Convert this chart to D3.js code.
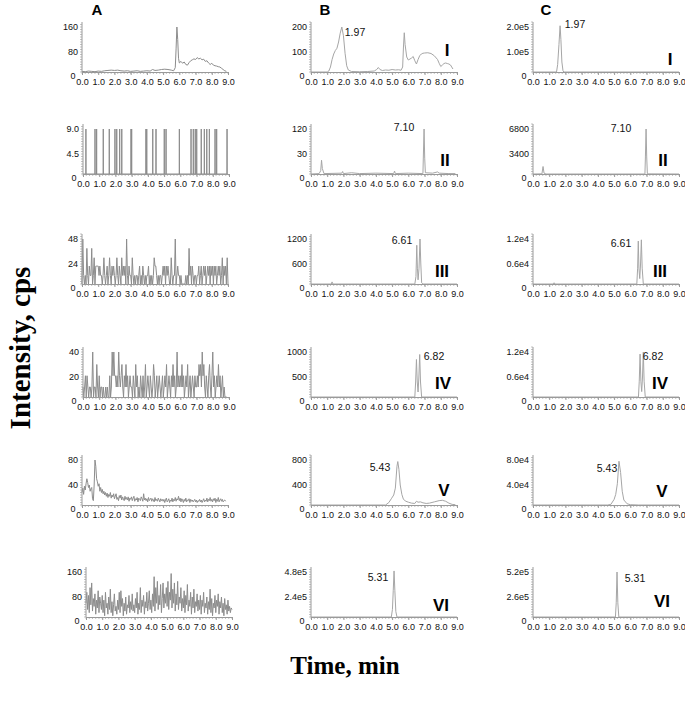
<!DOCTYPE html>
<html>
<head>
<meta charset="utf-8">
<script src="https://cdn.jsdelivr.net/npm/d3@7"></script>
<style>
  body { margin: 0; background: #fff; }
  svg { display: block; }
</style>
</head>
<body>
<div id="chart"></div>
<script>
// time axis (min)
const timeTicks = [0, 1, 2, 3, 4, 5, 6, 7, 8, 9];
const sampleStep = 0.05; // min between samples in the noisy blank traces

// column A: blank samples
const a1 = [[0,18],[0.2,17],[0.4,19],[0.6,18],[0.8,17],[1.0,19],[1.2,18],[1.4,20],[1.6,21],[1.8,22],[2.0,21],[2.2,22],[2.4,20],[2.6,19],[2.8,20],[3.0,18],[3.2,19],[3.4,20],[3.6,18],[3.8,19],[4.0,20],[4.2,19],[4.35,24],[4.5,21],[4.7,22],[4.9,24],[5.1,25],[5.3,24],[5.5,22],[5.65,20],[5.75,30],[5.8,90],[5.85,160],[5.9,120],[5.95,60],[6.0,45],[6.1,50],[6.2,44],[6.3,48],[6.4,40],[6.5,38],[6.6,46],[6.7,52],[6.8,55],[6.9,58],[7.0,56],[7.1,62],[7.2,58],[7.3,60],[7.4,55],[7.5,57],[7.6,50],[7.7,52],[7.8,45],[7.9,40],[8.0,44],[8.1,38],[8.2,36],[8.3,35],[8.4,33],[8.5,32],[8.6,28],[8.7,24],[8.8,20],[8.9,18]];
const a2Spikes = [0.18,0.74,0.84,1.25,1.62,1.97,2.08,2.26,2.39,2.96,3.0,3.88,3.93,4.30,4.50,5.01,5.12,5.94,6.66,6.80,6.92,7.01,7.29,7.48,7.63,7.79,8.14,8.24,8.88];
const a2Height = 9;
const a3 = [
  0,48,13,0,13,0,39,13,0,22,13,13,39,0,13,30,0,22,22,22,
  22,13,22,13,13,0,13,30,13,0,13,22,0,13,30,13,0,22,13,22,
  13,0,13,30,13,0,22,13,0,30,13,22,13,22,0,48,13,0,22,13,
  13,0,30,13,0,13,0,13,13,0,13,22,0,13,0,22,13,0,13,0,
  13,13,22,0,13,0,13,0,13,30,22,22,13,0,13,0,13,13,0,13,
  22,13,22,0,22,13,22,13,0,0,30,13,0,13,13,48,0,13,22,13,
  13,0,13,0,0,0,0,0,13,0,13,0,39,13,22,0,22,13,0,13,
  13,0,13,13,22,0,13,22,0,13,22,13,22,0,13,22,13,22,0,22,
  13,22,0,22,13,22,0,13,22,13,22,0,13,30,0,22,13,22,0,30,
  0];
const a4 = [
  12,0,12,21,0,21,12,0,12,12,0,12,40,0,12,12,0,30,12,0,
  21,0,12,12,0,12,0,0,12,0,12,0,0,21,0,12,40,21,40,21,
  21,12,21,12,40,21,12,21,30,12,0,21,12,30,12,21,0,12,21,12,
  12,0,21,12,0,30,12,21,0,12,0,21,12,0,21,0,12,30,0,12,
  21,12,0,21,12,0,12,30,21,0,12,21,0,12,21,12,0,12,21,0,
  12,21,12,30,0,12,21,12,0,21,12,30,12,21,0,12,40,12,21,12,
  21,12,30,12,21,0,12,21,12,30,0,12,21,0,12,21,12,0,21,12,
  12,21,12,30,21,30,12,40,21,30,12,0,21,12,0,21,30,12,0,21,
  40,12,21,0,12,21,12,30,12,21,0,12,21,0,12,0,0,0];
const a5 = [
  28,35,25,38,32,42,50,44,36,40,30,34,36,18,15,40,80,70,50,45,
  38,42,30,36,28,33,26,30,24,28,22,27,20,25,22,28,19,24,21,26,
  18,22,26,17,20,15,23,19,24,16,21,18,15,22,17,20,16,21,14,19,
  17,21,15,19,22,14,18,16,20,13,19,17,15,21,18,14,26,16,19,15,
  18,13,20,15,17,19,14,18,16,13,20,15,17,14,19,16,13,18,15,17,
  14,17,12,16,19,13,15,18,12,16,14,19,13,17,15,20,14,18,16,22,
  15,19,13,18,16,12,17,14,19,13,16,15,18,12,17,14,16,13,15,17,
  13,16,12,15,14,17,13,16,12,15,18,13,16,14,19,13,17,15,20,14,
  17,13,18,15,19,12,17,14,20,13,16,18,14,17,13,15,16,14];
const a6 = [
  60,95,40,85,30,110,55,125,35,75,50,90,25,70,45,100,30,80,60,40,
  85,30,70,20,95,45,60,25,80,40,105,30,65,20,55,90,35,50,25,70,
  40,95,30,100,50,75,20,60,35,80,25,55,45,85,30,65,40,90,35,55,
  30,75,45,95,25,60,40,110,30,70,50,85,25,65,45,95,35,60,100,40,
  70,30,90,50,145,35,110,60,130,40,85,55,120,30,75,125,45,90,60,110,
  50,130,40,95,70,155,45,105,60,125,35,90,55,130,40,80,60,110,35,75,
  45,100,30,85,55,120,35,70,50,95,25,80,45,105,30,65,50,90,35,70,
  40,85,25,70,50,95,30,60,45,80,25,65,40,105,30,75,20,60,45,85,
  30,70,50,90,25,65,45,80,30,60,20,75,40,55,25,70,35,50,30,45,
  40];

// column B: spiked samples
const b1 = [[0,18],[0.5,19],[1.0,20],[1.1,24],[1.2,40],[1.3,70],[1.4,92],[1.5,106],[1.6,115],[1.7,140],[1.8,175],[1.9,200],[2.0,165],[2.1,95],[2.2,45],[2.3,28],[2.5,22],[3.0,21],[3.5,22],[3.9,24],[4.05,30],[4.15,38],[4.25,30],[4.4,26],[4.6,28],[4.8,27],[5.0,30],[5.2,28],[5.4,29],[5.55,27],[5.65,40],[5.7,120],[5.75,177],[5.8,130],[5.9,80],[6.0,68],[6.1,72],[6.2,76],[6.3,82],[6.4,65],[6.5,52],[6.6,70],[6.7,85],[6.8,92],[6.9,95],[7.0,96],[7.2,97],[7.4,94],[7.6,85],[7.8,70],[7.9,55],[8.0,42],[8.1,48],[8.2,54],[8.3,56],[8.4,54],[8.5,52],[8.6,48],[8.75,32]];
const b2 = [[0,12],[0.5,13],[0.6,20],[0.65,45],[0.7,25],[0.8,13],[1.9,14],[1.95,18],[2.0,13],[2.5,15],[3.0,13],[4.0,14],[5.1,13],[5.15,19],[5.2,13],[6.0,14],[6.9,13],[6.93,60],[6.97,120],[7.01,50],[7.05,15],[7.5,14],[7.8,17],[7.9,14],[8.5,13],[8.9,13]];
const b3 = [[0,100],[1.25,110],[1.3,170],[1.35,110],[3,100],[6.4,110],[6.47,300],[6.52,1050],[6.56,500],[6.6,220],[6.66,500],[6.72,1200],[6.77,600],[6.82,150],[6.9,100],[9,100]];
const b4 = [[0,80],[6.4,90],[6.45,400],[6.5,850],[6.55,400],[6.6,200],[6.65,500],[6.7,950],[6.75,400],[6.82,90],[9,80]];
const b5 = [[0,70],[4.6,75],[4.8,120],[4.95,180],[5.1,240],[5.2,350],[5.3,700],[5.35,775],[5.42,650],[5.5,400],[5.6,250],[5.7,170],[5.85,140],[6.0,125],[6.2,110],[6.4,105],[6.5,140],[6.6,125],[6.75,130],[6.9,115],[7.1,105],[7.3,110],[7.6,130],[7.9,150],[8.1,155],[8.3,140],[8.5,110],[8.7,90],[8.9,85]];
const b6 = [[0,40000],[4.95,40000],[5.02,120000],[5.07,300000],[5.12,490000],[5.17,300000],[5.23,100000],[5.3,40000],[9,40000]];

// column C: spiked samples, second channel
const c1 = [[0,15000],[1.45,15000],[1.52,50000],[1.6,130000],[1.67,205000],[1.72,150000],[1.78,60000],[1.85,25000],[1.9,15000],[9,15000]];
const c2 = [[0,600],[0.55,700],[0.62,1700],[0.68,800],[0.8,600],[6.9,600],[6.93,3000],[6.97,6800],[7.01,3000],[7.05,700],[9,600]];
const c3 = [[0,1000],[1.25,1000],[1.3,1500],[1.35,1000],[6.4,1000],[6.45,5000],[6.49,11500],[6.53,5000],[6.58,2500],[6.63,6000],[6.68,11800],[6.73,5000],[6.8,1000],[9,1000]];
const c4 = [[0,1000],[6.5,1000],[6.55,5000],[6.6,11500],[6.65,5000],[6.7,2500],[6.75,6000],[6.8,12000],[6.85,5000],[6.92,1000],[9,1000]];
const c5 = [[0,7000],[4.6,7500],[4.8,9000],[5.0,17000],[5.1,25000],[5.2,42000],[5.3,78000],[5.4,60000],[5.5,30000],[5.6,16000],[5.8,10000],[6.0,8500],[6.5,7500],[9,7000]];
const c6 = [[0,40000],[5.08,40000],[5.13,200000],[5.18,520000],[5.23,200000],[5.29,40000],[9,40000]];

// y axis: top tick value and [top, middle] tick labels
const yMaxA = [160, 9, 48, 40, 80, 160];
const yLabelsA = [["160","80"],["9.0","4.5"],["48","24"],["40","20"],["80","40"],["160","80"]];
const yMaxB = [200, 120, 1200, 1000, 800, 480000];
const yLabelsB = [["200","100"],["120","30"],["1200","600"],["1000","500"],["800","400"],["4.8e5","2.4e5"]];
const yMaxC = [200000, 6800, 12000, 12000, 80000, 520000];
const yLabelsC = [["2.0e5","1.0e5"],["6800","3400"],["1.2e4","0.6e4"],["1.2e4","0.6e4"],["8.0e4","4.0e4"],["5.2e5","2.6e5"]];

const columnNames = ["A", "B", "C"];
const compounds = ["I", "II", "III", "IV", "V", "VI"];
const peakLabels = ["1.97", "7.10", "6.61", "6.82", "5.43", "5.31"];

// ---- layout ----
const W = 685, H = 705;
const rowAxisY = [72, 174, 284, 397, 505, 617];
const colAxisX = [[82, 83, 82, 83, 82, 86], [311, 311, 311, 311, 311, 311], [533, 533, 533, 533, 533, 533]];
const plotW = 146;
const traceColor = ["#8c8c8c", "#a6a6a6", "#a6a6a6"];
const axisColor = "#9a9a9a";

// label placements (centre points)
const peakPosB = [[355, 32], [404, 127], [402, 240], [434, 356], [380, 467], [378, 577]];
const peakPosC = [[575, 24], [621, 128], [621, 243], [653, 356], [607, 468], [635, 578]];
const romanPosB = [[447, 50], [445, 160], [442, 271], [443, 383], [444, 490], [441, 605]];
const romanPosC = [[670, 59], [663, 160], [660, 271], [660, 383], [662, 491], [662, 601]];
const headPos = [[97, 10], [325, 10], [546, 10]];

const svg = d3.select('#chart').append('svg')
  .attr('width', W)
  .attr('height', H)
  .style('font-family', 'Arial, "Liberation Sans", sans-serif');

function toPoints(values) {
  return values.map((v, i) => [i * sampleStep, v]);
}

function spikesToPoints(times, h) {
  const pts = [[0, 0]];
  times.forEach(t => { pts.push([t - 0.004, 0], [t, h], [t + 0.004, 0]); });
  pts.push([8.9, 0]);
  return pts;
}

function drawPanel(x0, axisY, yMax, labels, points, color) {
  const x = d3.scaleLinear().domain([0, 9]).range([x0, x0 + plotW]);
  const y = d3.scaleLinear().domain([0, yMax]).range([axisY + 5, axisY - 45]);
  const g = svg.append('g');

  // trace (anything below the axis floor sits on the axis)
  const line = d3.line()
    .x(d => x(d[0]))
    .y(d => Math.min(y(d[1]), axisY));
  g.append('path')
    .datum(points)
    .attr('d', line)
    .attr('fill', 'none')
    .attr('stroke', color)
    .attr('stroke-width', 1)
    .attr('stroke-linejoin', 'round');

  // x axis
  const xAxis = g.append('g')
    .attr('transform', `translate(0,${axisY})`)
    .call(d3.axisBottom(x).tickValues(timeTicks).tickFormat(d3.format('.1f')).tickSize(3).tickPadding(4));
  xAxis.select('.domain').attr('stroke', axisColor);
  xAxis.selectAll('.tick line').attr('stroke', axisColor);
  xAxis.selectAll('text').attr('font-size', 9).attr('fill', '#111');

  const xMinor = d3.range(0, 9.001, 0.2);
  g.append('g').selectAll('line')
    .data(xMinor)
    .join('line')
    .attr('x1', d => x(d)).attr('x2', d => x(d))
    .attr('y1', axisY).attr('y2', axisY + 2)
    .attr('stroke', axisColor).attr('stroke-width', 0.6);

  // y axis: the 0 label sits in the corner, just clear of the "0.0" time label
  const yTicks = [yMax / 2, yMax];
  const yText = [labels[1], labels[0]];
  const yAxis = g.append('g')
    .attr('transform', `translate(${x0},0)`)
    .call(d3.axisLeft(y).tickValues(yTicks).tickFormat((d, i) => yText[i]).tickSize(0).tickPadding(4));
  yAxis.select('.domain').remove();
  yAxis.selectAll('text').attr('font-size', 9).attr('fill', '#111');

  g.append('text')
    .attr('x', x0 - 6.5)
    .attr('y', y(0) - 1)
    .attr('dy', '0.32em')
    .attr('text-anchor', 'end')
    .attr('font-size', 9)
    .attr('fill', '#111')
    .text('0');

  g.append('line')
    .attr('x1', x0).attr('x2', x0)
    .attr('y1', y(yMax / 10)).attr('y2', y(yMax * 1.1))
    .attr('stroke', axisColor);

  const yMinor = d3.range(yMax / 10, yMax * 1.1, yMax / 20);
  g.append('g').selectAll('line')
    .data(yMinor)
    .join('line')
    .attr('x1', x0 - 2).attr('x2', x0)
    .attr('y1', d => y(d)).attr('y2', d => y(d))
    .attr('stroke', axisColor).attr('stroke-width', 0.6);
}

const seriesA = [a1, spikesToPoints(a2Spikes, a2Height), toPoints(a3), toPoints(a4), toPoints(a5), toPoints(a6)];
const seriesB = [b1, b2, b3, b4, b5, b6];
const seriesC = [c1, c2, c3, c4, c5, c6];

const cols = [
  { maxes: yMaxA, labels: yLabelsA, series: seriesA },
  { maxes: yMaxB, labels: yLabelsB, series: seriesB },
  { maxes: yMaxC, labels: yLabelsC, series: seriesC }
];

cols.forEach((col, ci) => {
  rowAxisY.forEach((ay, ri) => {
    drawPanel(colAxisX[ci][ri], ay, col.maxes[ri], col.labels[ri], col.series[ri], traceColor[ci]);
  });
});

// peak retention times
[peakPosB, peakPosC].forEach(pos => {
  svg.append('g').selectAll('text')
    .data(peakLabels)
    .join('text')
    .attr('x', (d, i) => pos[i][0])
    .attr('y', (d, i) => pos[i][1])
    .attr('dy', '0.35em')
    .attr('text-anchor', 'middle')
    .attr('font-size', 10.5)
    .attr('fill', '#111')
    .text(d => d);
});

// compound numerals
[romanPosB, romanPosC].forEach(pos => {
  svg.append('g').selectAll('text')
    .data(compounds)
    .join('text')
    .attr('x', (d, i) => pos[i][0])
    .attr('y', (d, i) => pos[i][1])
    .attr('dy', '0.36em')
    .attr('text-anchor', 'middle')
    .attr('font-size', 17)
    .attr('font-weight', 'bold')
    .attr('fill', '#000')
    .text(d => d);
});

// column headings
svg.append('g').selectAll('text')
  .data(columnNames)
  .join('text')
  .attr('x', (d, i) => headPos[i][0])
  .attr('y', (d, i) => headPos[i][1])
  .attr('dy', '0.36em')
  .attr('text-anchor', 'middle')
  .attr('font-size', 15)
  .attr('font-weight', 'bold')
  .text(d => d);

// axis titles
svg.append('text')
  .attr('transform', 'translate(20,348) rotate(-90)')
  .attr('dy', '0.35em')
  .attr('text-anchor', 'middle')
  .style('font-family', '"Liberation Serif", "Times New Roman", serif')
  .attr('font-size', 29)
  .attr('font-weight', 'bold')
  .text('Intensity, cps');

svg.append('text')
  .attr('x', 345)
  .attr('y', 665)
  .attr('dy', '0.35em')
  .attr('text-anchor', 'middle')
  .style('font-family', '"Liberation Serif", "Times New Roman", serif')
  .attr('font-size', 25)
  .attr('font-weight', 'bold')
  .text('Time, min');
</script>
</body>
</html>
